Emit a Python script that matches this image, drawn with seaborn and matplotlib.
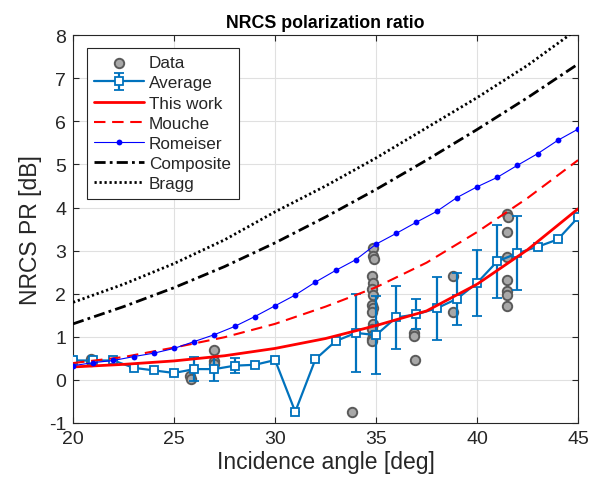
import matplotlib
matplotlib.use('Agg')
import matplotlib.pyplot as plt
import seaborn as sns
import numpy as np

# Model curves (incidence angle in deg, PR in dB)
curve_angle = [20, 22.5, 25, 27.5, 30, 32.5, 35, 37.5, 40, 42.5, 45]
this_work = [0.30, 0.36, 0.44, 0.56, 0.73, 0.96, 1.26, 1.60, 2.22, 3.02, 3.97]
mouche = [0.39, 0.53, 0.75, 0.99, 1.30, 1.70, 2.15, 2.72, 3.43, 4.22, 5.10]
composite = [1.30, 1.70, 2.14, 2.63, 3.18, 3.78, 4.42, 5.10, 5.81, 6.55, 7.33]
bragg = [1.80, 2.22, 2.70, 3.25, 3.90, 4.50, 5.15, 5.85, 6.55, 7.30, 8.15]

# Romeiser model, one value per degree
rom_angle = list(range(20, 46))
romeiser = [0.33, 0.40, 0.45, 0.54, 0.62, 0.73, 0.89, 1.05, 1.24, 1.47, 1.72,
            1.97, 2.27, 2.54, 2.79, 3.15, 3.40, 3.66, 3.91, 4.23, 4.48, 4.70,
            4.98, 5.25, 5.56, 5.82]

# Binned average with std
avg_angle = list(range(20, 46))
avg_pr = [0.45, 0.45, 0.45, 0.28, 0.22, 0.16, 0.25, 0.25, 0.33, 0.35, 0.46,
          -0.74, 0.48, 0.90, 1.09, 1.04, 1.45, 1.52, 1.66, 1.88, 2.25, 2.75,
          2.94, 3.09, 3.26, 3.77]
avg_std = [0.04, 0.0, 0.0, 0.0, 0.0, 0.04, 0.28, 0.28, 0.17, 0.0, 0.0,
           0.0, 0.0, 0.0, 0.90, 0.90, 0.73, 0.35, 0.73, 0.60, 0.77, 0.85,
           0.86, 0.0, 0.0, 0.0]

# Individual measurements
data_angle = [20.9, 20.9, 25.8, 25.85, 27.0, 27.0, 27.0, 33.8,
              34.85, 34.85, 34.9, 34.8, 34.85, 34.8, 34.85, 34.8, 34.85, 34.8,
              34.85, 34.8, 34.85, 34.8, 34.8,
              36.9, 36.9, 36.95, 38.8, 38.8,
              41.5, 41.55, 41.5, 41.5, 41.5, 41.5, 41.5, 41.5]
data_pr = [0.44, 0.48, 0.08, 0.03, 0.70, 0.44, 0.38, -0.74,
           3.06, 2.87, 2.81, 2.40, 2.25, 2.10, 1.96, 1.74, 1.66, 1.58,
           1.30, 1.17, 1.03, 0.95, 0.91,
           1.08, 1.01, 0.46, 2.42, 1.57,
           3.85, 3.77, 3.43, 2.86, 2.32, 2.07, 1.96, 1.71]

sns.set_style("whitegrid")
plt.rcParams['font.family'] = ['Liberation Sans', 'DejaVu Sans']
plt.rcParams['axes.unicode_minus'] = False

fig = plt.figure(figsize=(5.99, 4.89), dpi=100)
ax = fig.add_axes([0.122, 0.133, 0.843, 0.793])

axis_col = '#262626'
blue = '#0072BD'

sns.scatterplot(x=data_angle, y=data_pr, ax=ax, s=46, color='#a8a8a8',
                edgecolor='#5a5a5a', linewidth=1.4, label='Data', zorder=2)
ax.errorbar(avg_angle, avg_pr, yerr=avg_std, color=blue, lw=1.6,
            marker='s', markersize=5.5, markerfacecolor='white',
            markeredgecolor=blue, markeredgewidth=1.3, capsize=3.4,
            capthick=1.6, elinewidth=1.6, label='Average', zorder=3)
sns.lineplot(x=curve_angle, y=this_work, ax=ax, color='#ff0000', lw=2.0,
             label='This work', zorder=4)
sns.lineplot(x=curve_angle, y=mouche, ax=ax, color='#ff0000', lw=1.5,
             linestyle=(0, (5.5, 3.2)), label='Mouche', zorder=4)
sns.lineplot(x=rom_angle, y=romeiser, ax=ax, color='#0000ff', lw=0.8,
             marker='o', markersize=4.2, markeredgewidth=0,
             label='Romeiser', zorder=5)
sns.lineplot(x=curve_angle, y=composite, ax=ax, color='black', lw=2.0,
             linestyle=(0, (4, 1.5, 1, 1.5)), label='Composite', zorder=5)
sns.lineplot(x=curve_angle, y=bragg, ax=ax, color='black', lw=2.0,
             linestyle=(0, (0.8, 1.0)), label='Bragg', zorder=5)

ax.set_xlim(20, 45)
ax.set_ylim(-1, 8)
ax.set_xticks(range(20, 46, 5))
ax.set_yticks(range(-1, 9))
ax.grid(True, color='#e0e0e0', lw=0.8)
ax.set_axisbelow(True)
for sp in ax.spines.values():
    sp.set_color(axis_col)
    sp.set_linewidth(0.8)
ax.tick_params(direction='in', length=4, width=0.8, color=axis_col,
               labelcolor=axis_col, labelsize=14, top=True, right=True,
               bottom=True, left=True, pad=5)

ax.set_xlabel('Incidence angle [deg]', fontsize=16.5, color=axis_col, labelpad=2)
ax.set_ylabel('NRCS PR [dB]', fontsize=16.5, color=axis_col, labelpad=5)
ax.set_title('NRCS polarization ratio', fontsize=12.8, fontweight='bold',
             color='black', pad=6)

handles, labels = ax.get_legend_handles_labels()
order = ['Data', 'Average', 'This work', 'Mouche', 'Romeiser', 'Composite', 'Bragg']
hmap = dict(zip(labels, handles))
leg = ax.legend([hmap[k] for k in order], order, loc='upper left',
                bbox_to_anchor=(0.027, 0.968), fontsize=12.3, frameon=True,
                fancybox=False, handlelength=2.9, handletextpad=0.3,
                labelspacing=0.3, borderpad=0.45, borderaxespad=0)
leg.get_frame().set_edgecolor(axis_col)
leg.get_frame().set_linewidth(0.8)
leg.get_frame().set_facecolor('white')
leg.get_frame().set_alpha(1)

fig.savefig('out.png', dpi=100)
